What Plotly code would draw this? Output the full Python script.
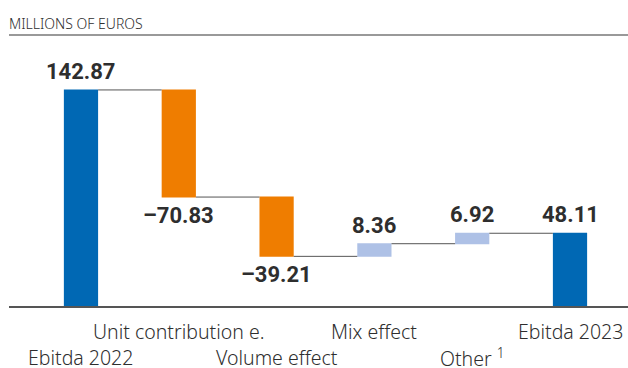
import plotly.graph_objects as go

categories = ["Ebitda 2022", "Unit contribution e.", "Volume effect", "Mix effect", "Other", "Ebitda 2023"]
label_text = ["Ebitda 2022", "Unit contribution e.", "Volume effect", "Mix effect", "Other <sup>1</sup>", "Ebitda 2023"]
values = [142.87, -70.83, -39.21, 8.36, 6.92, 48.11]
measures = ["absolute", "relative", "relative", "relative", "relative", "total"]
label_rows = [2, 1, 2, 1, 2, 1]

BLUE = "#0068B4"
ORANGE = "#EF7D00"
LIGHT = "#AEC1E6"
TXT = "#2E2E2E"

fig = go.Figure()
fig.add_trace(go.Waterfall(
    x=categories, y=values, measure=measures,
    width=[0.35] * len(categories),
    increasing=dict(marker=dict(color=LIGHT)),
    decreasing=dict(marker=dict(color=ORANGE)),
    totals=dict(marker=dict(color=BLUE)),
    connector=dict(mode="between", line=dict(color="#555555", width=1)),
    hoverinfo="skip", showlegend=False,
))

# value labels
cum = 0.0
for c, v, m in zip(categories, values, measures):
    if m == "absolute":
        lo, hi = 0.0, v
        cum = v
    elif m == "total":
        lo, hi = 0.0, cum
        v = cum
    else:
        lo, hi = (cum, cum + v) if v >= 0 else (cum + v, cum)
        cum += v
    txt = f"{v:.2f}".replace("-", "\u2013")
    if v >= 0 or m != "relative":
        fig.add_annotation(x=c, y=hi, text=f"<b>{txt}</b>", showarrow=False,
                           yanchor="bottom", yshift=4,
                           font=dict(family="Roboto", size=22, color=TXT))
    else:
        fig.add_annotation(x=c, y=lo, text=f"<b>{txt}</b>", showarrow=False,
                           yanchor="top", yshift=-4,
                           font=dict(family="Roboto", size=22, color=TXT))

# category labels (staggered)
for c, t, r in zip(categories, label_text, label_rows):
    fig.add_annotation(x=c, y=0, yref="y", text=t, showarrow=False,
                       yanchor="middle", yshift=-25 if r == 1 else -51,
                       font=dict(family="Noto Sans", size=19.5, color=TXT, weight=300))

# header
fig.add_annotation(x=0, xref="paper", y=1 + (40 - 23) / 266, yref="paper", text="MILLIONS OF EUROS",
                   showarrow=False, xanchor="left", yanchor="middle", xshift=-2,
                   font=dict(family="Noto Sans", size=14, color=TXT, weight=300))
fig.add_shape(type="line", xref="paper", yref="paper", x0=0, x1=1,
              y0=1 + (40 - 35) / 266, y1=1 + (40 - 35) / 266,
              line=dict(color="#777777", width=1.5))

fig.update_layout(
    width=628, height=368,
    margin=dict(l=9, r=0, t=40, b=62),
    paper_bgcolor="white", plot_bgcolor="white",
    xaxis=dict(range=[-0.736, 5.593], showticklabels=False, showgrid=False,
               zeroline=False, showline=True, linecolor="#555555", linewidth=1.5,
               ticks=""),
    yaxis=dict(range=[0, 175.9], visible=False, showgrid=False, zeroline=False),
)

fig.write_html("out.html", config={"displayModeBar": False},
               post_script="document.body.style.margin='0';document.body.style.overflow='hidden';")
